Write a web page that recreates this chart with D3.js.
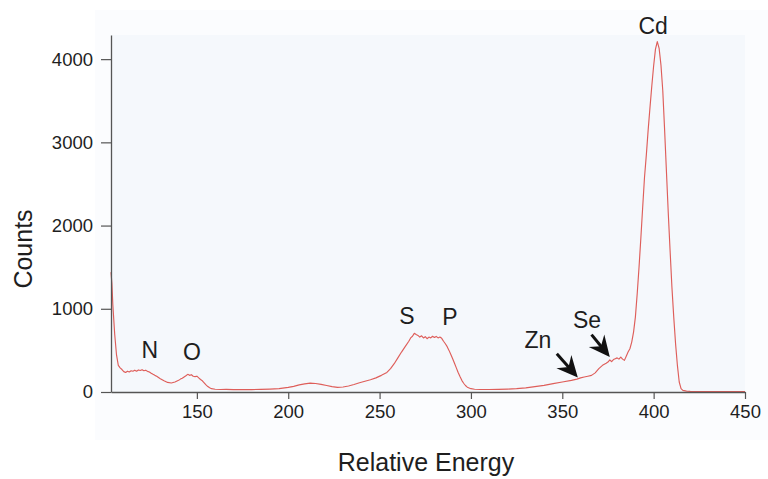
<!DOCTYPE html>
<html><head><meta charset="utf-8">
<script src="https://cdn.jsdelivr.net/npm/d3@7"></script>
<style>
html,body{margin:0;padding:0;background:#fff;}
svg text{font-family:"Liberation Sans",Arial,Helvetica,sans-serif;fill:#1e1e1e;}
</style></head>
<body>
<svg id="chart" width="768" height="479"></svg>
<script>
const energy = [103,103.5,104,105,106,107,108,109,110,111,112,113,114,115,116,117,118,119,120,121,122,123,124,125,126,127,128,129,130,132,134,136,138,140,141,142,143,144,145,146,147,148,149,150,151,152,153,154,155,156,157,158,160,163,166,170,175,180,185,190,195,200,203,206,209,212,215,218,221,224,227,230,233,236,239,242,245,248,251,254,256,258,260,262,264,266,267,268,269,270,271,272,273,274,275,276,277,278,279,280,281,282,283,284,285,286,287,288,289,290,291,292,293,294,295,296,297,298,300,302,305,310,315,320,325,330,335,340,345,350,355,358,360,362,364,366,368,370,372,374,375,376,377,378,379,380,381,382,383,384,385,386,387,388,389,390,391,392,393,394,395,396,397,398,399,400,401,402,403,404,405,406,407,408,409,410,411,412,413,414,415,416,418,420,425,430,440,450];
const counts = [1440,1300,1050,700,450,320,290,270,245,235,250,240,255,250,262,250,265,258,268,255,262,248,240,225,212,200,190,175,160,135,115,108,120,140,155,165,180,195,212,200,208,190,185,190,170,150,135,110,85,65,50,40,33,30,32,28,30,29,32,35,40,55,68,85,98,106,102,92,78,65,55,60,72,90,112,130,148,170,200,235,280,340,410,480,545,610,650,670,705,690,680,660,675,650,665,640,660,650,670,655,668,650,660,645,610,580,545,500,450,400,345,290,235,185,140,105,78,58,40,33,30,30,32,35,40,50,65,80,100,120,140,155,170,180,190,200,230,280,320,345,360,385,365,390,400,410,395,420,395,380,430,480,520,600,720,900,1180,1500,1850,2220,2580,2850,3150,3420,3680,3920,4120,4210,4130,3930,3620,3150,2650,2150,1700,1260,900,580,320,120,40,20,10,8,6,5,5,5];
const xTicks = [150,200,250,300,350,400,450];
const yTicks = [0,1000,2000,3000,4000];
const peakLabels = ["N","O","S","P","Zn","Se","Cd"];
const peakEnergy = [124.3,147.3,265,288.5,336.7,363.5,399.7];
const peakCounts = [480,460,885,875,600,845,4375];
const arrowFrom = [[347,460],[366,690]];
const arrowTo = [[358.5,175],[376,420]];

const svg = d3.select("#chart");
const L = 111, R = 745, T = 35, B = 392;
const x = d3.scaleLinear().domain([103,450]).range([L,R]);
const y = d3.scaleLinear().domain([0,4290]).range([B,T]);

svg.append("rect").attr("x",95).attr("y",10).attr("width",673).attr("height",430).attr("fill","#fbfcfe");
svg.append("rect").attr("x",L).attr("y",T).attr("width",R-L).attr("height",B-T).attr("fill","#f5f8fc");

const line = d3.line().x((d,i)=>x(energy[i])).y(d=>y(d));
svg.append("path").datum(counts).attr("d",line).attr("fill","none")
  .attr("stroke","#de5e5a").attr("stroke-width",1.15).attr("stroke-linejoin","round");

const xa = svg.append("g").attr("transform",`translate(0,${B})`)
  .call(d3.axisBottom(x).tickValues(xTicks).tickFormat(d3.format("d")).tickSize(7).tickSizeOuter(0).tickPadding(6));
const ya = svg.append("g").attr("transform",`translate(${L},0)`)
  .call(d3.axisLeft(y).tickValues(yTicks).tickFormat(d3.format("d")).tickSize(10).tickSizeOuter(0).tickPadding(8));
[xa,ya].forEach(g=>{
  g.select(".domain").attr("stroke","#555").attr("stroke-width",1.3);
  g.selectAll(".tick line").attr("stroke","#555").attr("stroke-width",1.2);
  g.selectAll(".tick text").attr("font-size",18.5).attr("fill","#2a2a2a")
    .style("font-family","'Liberation Sans',Arial,sans-serif");
});

svg.append("text").attr("x",426).attr("y",471).attr("text-anchor","middle")
  .attr("font-size",25).text("Relative Energy");
svg.append("text").attr("transform","translate(32,249) rotate(-90)").attr("text-anchor","middle")
  .attr("font-size",25).text("Counts");

svg.selectAll(".pl").data(peakLabels).enter().append("text")
  .attr("x",(d,i)=>x(peakEnergy[i])).attr("y",(d,i)=>y(peakCounts[i]))
  .attr("text-anchor","middle").attr("dominant-baseline","middle")
  .attr("font-size",23).text(d=>d);

arrowFrom.forEach((f,i)=>{
  const x0=x(f[0]), y0=y(f[1]), x1=x(arrowTo[i][0]), y1=y(arrowTo[i][1]);
  const ang = Math.atan2(y1-y0,x1-x0)*180/Math.PI;
  const len = Math.hypot(x1-x0,y1-y0);
  const g = svg.append("g").attr("transform",`translate(${x1},${y1}) rotate(${ang})`);
  g.append("line").attr("x1",-len).attr("y1",0).attr("x2",-12).attr("y2",0)
    .attr("stroke","#111").attr("stroke-width",3);
  g.append("path").attr("d","M0,0 L-21,-10 L-14,0 L-21,10 Z").attr("fill","#111");
});
</script>
</body></html>
